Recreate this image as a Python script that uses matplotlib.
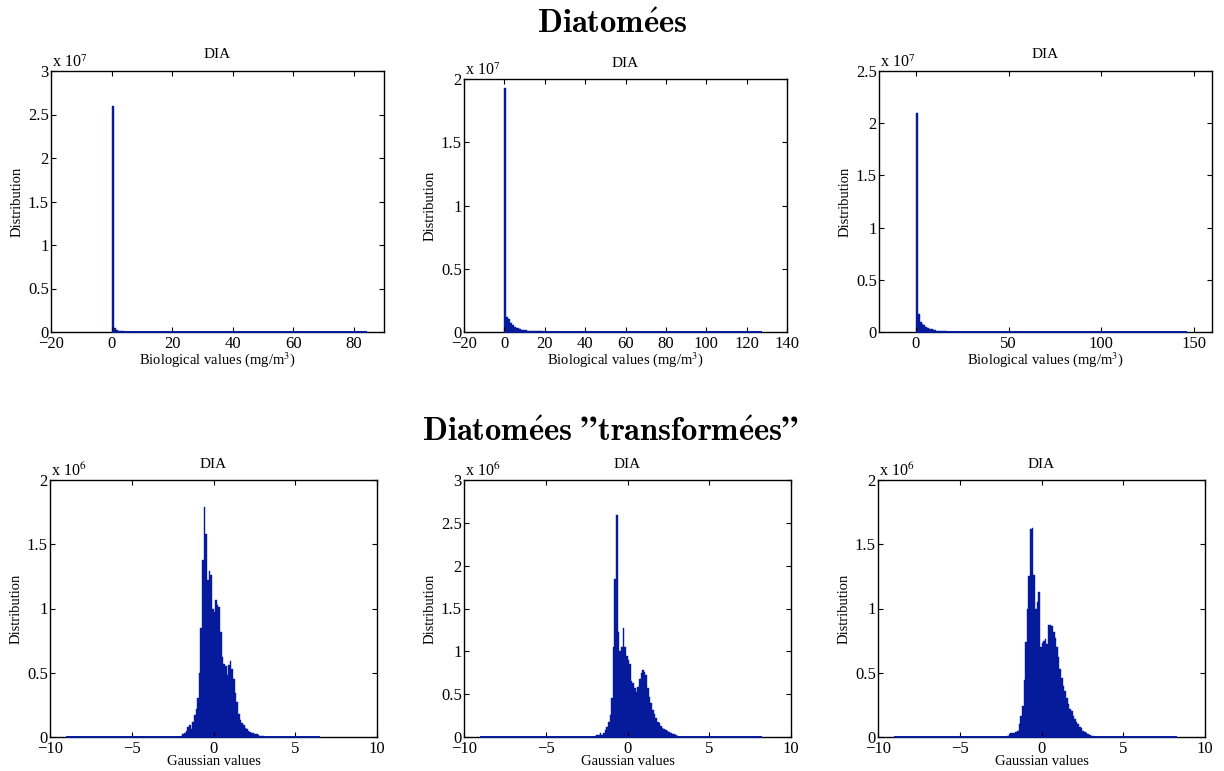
import numpy as np
import matplotlib.pyplot as plt
from matplotlib.ticker import FuncFormatter

plt.rcParams['font.family'] = ['Liberation Serif', 'DejaVu Serif']
plt.rcParams['mathtext.fontset'] = 'stix'

# ---- top row: biological values (counts in units of 1e7) ----
bio_bin_width = [0.7, 1.0, 1.0]
bio_counts = [
    [2.60, 0.05, 0.025, 0.015, 0.010, 0.007, 0.005, 0.004, 0.003, 0.002, 0.002, 0.001],
    [1.93, 0.12, 0.10, 0.075, 0.055, 0.040, 0.030, 0.022, 0.017, 0.014, 0.012,
     0.010, 0.009, 0.008, 0.007, 0.006, 0.005, 0.004, 0.004, 0.003, 0.003, 0.002],
    [2.095, 0.175, 0.10, 0.080, 0.065, 0.050, 0.040, 0.030, 0.025, 0.020, 0.016,
     0.013, 0.011, 0.009, 0.007, 0.006, 0.005, 0.004, 0.003, 0.003, 0.002],
]
bio_data_max = [84.3, 127.4, 146.3]
bio_xlim = [(-20, 90), (-20, 140), (-20, 160)]
bio_xticks = [[-20, 0, 20, 40, 60, 80],
              [-20, 0, 20, 40, 60, 80, 100, 120, 140],
              [0, 50, 100, 150]]
bio_ylim = [3, 2, 2.5]

# ---- bottom row: gaussian values (counts in units of 1e6), bins of 0.1 ----
gauss_bin_width = 0.1
gauss_first_edge = [-2.0, -2.0, -2.1]
gauss_counts = [
    [0.01, 0.02, 0.03, 0.05, 0.08, 0.09, 0.06, 0.12, 0.17, 0.22, 0.30, 0.50, 0.85,
     1.38, 1.79, 1.58, 1.22, 1.29, 1.26, 1.00, 0.97, 1.07, 1.03, 1.01, 0.82, 0.62,
     0.57, 0.55, 0.48, 0.56, 0.59, 0.53, 0.45, 0.34, 0.27, 0.18, 0.13, 0.11, 0.09,
     0.07, 0.06, 0.05, 0.04, 0.035, 0.03, 0.02, 0.02, 0.015, 0.01, 0.01, 0.005, 0.003],
    [0.01, 0.02, 0.02, 0.05, 0.02, 0.05, 0.08, 0.12, 0.18, 0.26, 0.45, 1.05, 1.85,
     2.59, 1.22, 1.00, 1.05, 1.27, 1.05, 0.95, 0.90, 0.85, 0.65, 0.63, 0.57, 0.53,
     0.58, 0.68, 0.75, 0.78, 0.76, 0.72, 0.57, 0.47, 0.40, 0.32, 0.27, 0.22, 0.18,
     0.16, 0.13, 0.10, 0.09, 0.08, 0.07, 0.06, 0.05, 0.04, 0.03, 0.02, 0.01, 0.005],
    [0.01, 0.02, 0.03, 0.03, 0.03, 0.04, 0.05, 0.10, 0.16, 0.24, 0.44, 0.74, 1.00,
     1.25, 1.62, 1.63, 1.26, 1.00, 1.05, 1.13, 0.70, 0.73, 0.75, 0.76, 0.72, 0.87,
     0.87, 0.86, 0.82, 0.77, 0.70, 0.62, 0.53, 0.46, 0.40, 0.36, 0.30, 0.26, 0.22,
     0.20, 0.16, 0.14, 0.12, 0.10, 0.08, 0.07, 0.05, 0.04, 0.03, 0.02, 0.015, 0.01,
     0.005],
]
gauss_data_range = [(-9.0, 6.5), (-9.0, 8.2), (-9.0, 8.3)]
gauss_ylim = [2, 3, 2]

bar_color = '#061a9c'

# axes boxes in pixels: left, right, top, bottom
boxes = [(51, 384, 71, 332), (464, 787, 79, 332), (879, 1212, 71, 332),
         (50, 377, 480, 737), (464, 791, 480, 737), (878, 1205, 480, 737)]

W, H = 1224, 771
fig = plt.figure(figsize=(W / 100, H / 100), dpi=100)


def num_fmt(v, pos):
    return ('%g' % v).replace('-', '\u2212')


def make_axes(box):
    l, r, t, b = box
    ax = fig.add_axes([l / W, 1 - b / H, (r - l) / W, (b - t) / H])
    ax.tick_params(direction='in', top=True, right=True, length=3.5,
                   width=0.8, labelsize=12, pad=1.5)
    ax.tick_params(axis='x', pad=3)
    for s in ax.spines.values():
        s.set_linewidth(1.0)
    ax.xaxis.set_major_formatter(FuncFormatter(num_fmt))
    ax.yaxis.set_major_formatter(FuncFormatter(num_fmt))
    ax.set_title('DIA', fontsize=11, pad=9)
    ax.set_ylabel('Distribution', fontsize=10.5, labelpad=3)
    return ax


for i in range(3):
    ax = make_axes(boxes[i])
    w = bio_bin_width[i]
    counts = bio_counts[i]
    edges = w * np.arange(len(counts))
    ax.bar(edges, counts, width=w, align='edge', color=bar_color,
           edgecolor=bar_color, linewidth=0.3)
    ax.hlines(0, 0, bio_data_max[i], color=bar_color, lw=1.4, zorder=3, clip_on=False)
    ax.set_xlim(*bio_xlim[i])
    ax.set_xticks(bio_xticks[i])
    ax.set_ylim(0, bio_ylim[i])
    ax.set_yticks(np.arange(0, bio_ylim[i] + 0.01, 0.5))
    ax.set_xlabel('Biological values (mg/m$^3$)', fontsize=10.5, labelpad=-1.5)
    ax.text(0.004, 1.0, 'x 10$^{7}$', transform=ax.transAxes, fontsize=11.5,
            ha='left', va='bottom')

for i in range(3):
    ax = make_axes(boxes[i + 3])
    counts = gauss_counts[i]
    edges = gauss_first_edge[i] + gauss_bin_width * np.arange(len(counts))
    ax.bar(edges, counts, width=gauss_bin_width, align='edge', color=bar_color,
           edgecolor=bar_color, linewidth=0.3)
    lo, hi = gauss_data_range[i]
    ax.hlines(0, lo, hi, color=bar_color, lw=1.4, zorder=3, clip_on=False)
    ax.set_xlim(-10, 10)
    ax.set_xticks([-10, -5, 0, 5, 10])
    ax.set_ylim(0, gauss_ylim[i])
    ax.set_yticks(np.arange(0, gauss_ylim[i] + 0.01, 0.5))
    ax.set_xlabel('Gaussian values', fontsize=10.5, labelpad=-1.5)
    ax.text(0.004, 1.0, 'x 10$^{6}$', transform=ax.transAxes, fontsize=11.5,
            ha='left', va='bottom')

fig.text(612 / W, 1 - 25 / H, r'$\mathbf{Diatom\acute{e}es}$', fontsize=23.5,
         ha='center', va='center', math_fontfamily='cm')
fig.text(610 / W, 1 - 433 / H,
         r'$\mathbf{Diatom\acute{e}es}\ \mathbf{”transform\acute{e}es”}$',
         fontsize=23.5, ha='center', va='center', math_fontfamily='cm')

fig.savefig('out.png', dpi=100)
